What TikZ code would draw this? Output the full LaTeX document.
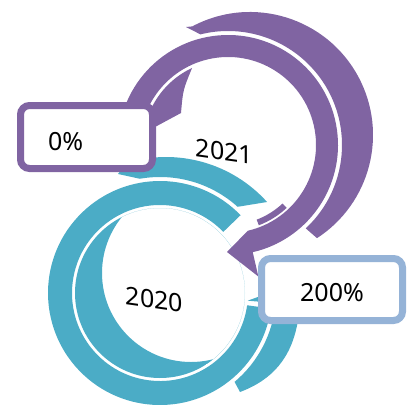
\documentclass[tikz,border=0pt]{standalone}
\usepackage{fontspec}
\setmainfont{Noto Sans}
\usetikzlibrary{calc}
\definecolor{ringP}{HTML}{8064A2}
\definecolor{ringT}{HTML}{4BACC6}
\definecolor{boxB}{HTML}{95B3D7}
\begin{document}
\begin{tikzpicture}[x=1pt, y=1pt,
    yearlabel/.style={font=\fontsize{25}{30}\selectfont, yslant=-0.14},
    valbox/.style={draw=#1, fill=white, line width=7pt, rounded corners=9pt,
        font=\fontsize{25}{30}\selectfont, inner sep=0pt, text depth=0pt}]
\useasboundingbox (0,0) rectangle (411,408);
\coordinate (P) at (228,263);
\coordinate (Q) at (250,273);
\coordinate (T) at (160,115);
\coordinate (U) at (166,115);
\coordinate (V) at (191,135);
% teal arrow
\fill[ringT] (118,234) -- ($(U)+(107:136)$) arc[start angle=107, end angle=42, radius=136]
    -- ($(T)+(48:116)$) arc[start angle=48, end angle=100, radius=116] -- cycle;
\fill[ringT] ($(T)+(44:112)$) arc[start angle=44, end angle=352, radius=112]
    -- ($(T)+(352:88)$) arc[start angle=352, end angle=44, radius=88] -- cycle;
\fill[ringT] (240,16) .. controls (272,28) and (292,50) .. (298,88)
    -- ($(T)+(-5:116)$) arc[start angle=-5, end angle=-50, radius=116] -- cycle;
\begin{scope}
\clip (T) circle (85);
\fill[ringT, even odd rule] (T) circle (85) (V) circle (89);
\end{scope}
\fill[ringT] ($(T)+(355:88)$) -- (280,119) -- ($(T)+(355:135)$) -- cycle;
% purple arrow
\coordinate (tailP) at ($(P)+(115:85)$);
\fill[ringP] (186,381) -- ($(Q)+(118:123)$) arc[start angle=118, end angle=-57, radius=123]
    -- ($(P)+(-47:114)$) arc[start angle=-47, end angle=104, radius=114] -- cycle;
\fill[ringP] ($(P)+(185:110)$) arc[start angle=185, end angle=-77, radius=110]
    -- ($(P)+(-77:135)$) -- (227,156)
    -- ($(P)+(-77:88)$) arc[start angle=-77, end angle=185, radius=88] -- cycle;
\fill[ringP] ($(P)+(-47:86)$) arc[start angle=-47, end angle=-69, radius=86]
    -- ($(P)+(-69:80)$) arc[start angle=-69, end angle=-47, radius=80] -- cycle;
\fill[ringP] (tailP) arc[start angle=115, end angle=165, radius=85]
    -- (155,281) -- (181,295) .. controls (183,318) .. (tailP);
\foreach \yr/\px/\py in {2021/224.5/256, 2020/154.5/108.5}{
    \node[yearlabel] (Y\yr) at (\px,\py) {\yr};
}
\node[valbox=ringP, minimum width=132pt, minimum height=63pt, text height=26pt,
    text width=77pt, align=left, inner xsep=27.5pt] (zero) at (86.5,271) {0\%};
\node[valbox=boxB, minimum width=141pt, minimum height=62pt, text height=23pt]
    (full) at (332,118.5) {200\%};
\end{tikzpicture}
\end{document}
